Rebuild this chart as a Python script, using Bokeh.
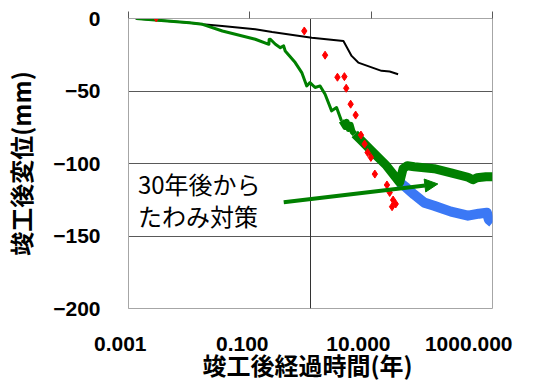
import math
from bokeh.plotting import figure
from bokeh.layouts import column
from bokeh.models import Range1d, FixedTicker, LogAxis, Label, Arrow, NormalHead, ColumnDataSource
from bokeh.embed import file_html
from bokeh.resources import INLINE

# ---------------- data ----------------
x_ticks = [0.001, 0.1, 10, 1000]
x_tick_labels = ["0.001", "0.100", "10.000", "1000.000"]
y_ticks = [0, -50, -100, -150, -200]
y_tick_labels = ["0", "−50", "−100", "−150", "−200"]
y_grid = [-50, -100, -150]

black_x = [0.0013, 0.0101, 0.0166, 0.035, 0.123, 0.233, 1.05, 3.49, 4.76, 6.13, 14.8, 20.2, 27.8]
black_y = [0.0, -2.9, -4.0, -5.2, -7.4, -9.3, -13.2, -15.5, -25.8, -30.4, -36.1, -36.6, -38.4]

green_early_x = [0.00134, 0.0101, 0.0166, 0.0353, 0.123, 0.206, 0.208, 0.218, 0.264, 0.318,
                 0.361, 0.383, 0.560, 0.718, 0.866, 0.98, 1.19, 1.44, 1.74, 2.23, 2.69, 3.24]
green_early_y = [0.0, -2.9, -4.0, -8.6, -14.3, -17.8, -14.5, -14.3, -17.8, -20.1,
                 -18.9, -22.4, -30.4, -37.3, -46.5, -44.2, -47.6, -46.5, -52.2, -63.7, -61.4, -70.6]

green_mid_x = [3.24, 3.73, 3.95, 4.26, 4.59, 4.95, 5.36]
green_mid_y = [-70.6, -74.7, -71.3, -76.1, -73.3, -78.1, -79.7]

green_late_x = [5.36, 6.95, 10.1, 17.9, 29.5, 33.6, 39.4, 51.4, 109, 207, 394, 476, 554, 778, 1000]
green_late_y = [-79.7, -84.3, -91.2, -101.5, -113.0, -103.6, -101.5, -102.2, -103.6, -106.4,
                -109.5, -111.2, -109.8, -109.1, -109.1]

blue_x = [29.5, 38.0, 51.4, 75.0, 109, 207, 394, 597, 807, 871, 1000]
blue_y = [-113.0, -116.7, -121.5, -127.0, -129.1, -133.2, -136.0, -134.6, -133.9, -138.7, -140.8]

red_x = [0.00286, 0.79, 1.74, 2.78, 3.62, 3.88, 4.59, 5.55, 6.78, 7.80, 8.74, 9.89, 11.5,
         18.2, 20.2, 23.0, 25.4, 22.1]
red_y = [0.5, -8.6, -25.3, -40.5, -40.1, -48.1, -59.1, -66.6, -80.4, -86.6, -92.4, -95.8, -107.3,
         -114.8, -120.0, -125.2, -127.9, -129.8]

ref_x = [1, 1]
ref_y = [0, -200]

note_lines = ["30年後から", "たわみ対策"]
x_title = "竣工後経過時間(年)"
y_title = "竣工後変位(mm)"

GREEN = "#008000"
BLUE = "#3b78f5"
RED = "#ff0000"
GRID = "#595959"
FRAME = "#a6a6a6"
TICK_FONT = "Liberation Sans"
JP_FONT = "Noto Sans CJK JP"

# layout (pixels)
W = 536
P_H = 330
Q_H = 53
B_LEFT, B_RIGHT, B_TOP, B_BOTTOM = 126, 44, 18, 22
X0, X1 = 0.001, 1000

# ---------------- main figure ----------------
p = figure(width=W, height=P_H, x_axis_type="log", x_axis_location=None,
           x_range=Range1d(X0, X1), y_range=Range1d(-200, 0),
           output_backend="svg", toolbar_location=None,
           min_border_left=B_LEFT, min_border_right=B_RIGHT,
           min_border_top=B_TOP, min_border_bottom=B_BOTTOM)
p.outline_line_color = FRAME
p.background_fill_color = "white"
p.border_fill_color = "white"
p.frame_align = False

# top axis: tick marks only
top = LogAxis(ticker=FixedTicker(ticks=x_ticks), major_tick_out=7, major_tick_in=0,
              major_tick_line_color=GRID, axis_line_color=FRAME,
              minor_tick_line_color=None, major_label_text_color=None, major_label_standoff=0)
p.add_layout(top, "above")

ya = p.yaxis[0]
ya.ticker = FixedTicker(ticks=y_ticks)
ya.major_label_overrides = dict(zip(y_ticks, y_tick_labels))
ya.major_tick_out = 0
ya.major_tick_in = 0
ya.minor_tick_line_color = None
ya.axis_line_color = FRAME
ya.major_label_standoff = 28
ya.major_label_text_font = TICK_FONT
ya.major_label_text_font_style = "bold"
ya.major_label_text_font_size = "21px"
ya.major_label_text_color = "black"
ya.axis_label = y_title
ya.axis_label_text_font = JP_FONT
ya.axis_label_text_font_style = "bold"
ya.axis_label_text_font_size = "24px"
ya.axis_label_text_color = "black"
ya.axis_label_standoff = 12

p.xgrid.visible = False
p.ygrid[0].ticker = FixedTicker(ticks=y_grid)
p.ygrid.grid_line_color = GRID

# ---------------- series ----------------
p.line(ref_x, ref_y, line_color="#333333", line_width=1)
p.line(black_x, black_y, line_color="black", line_width=2)
p.line(blue_x, blue_y, line_color=BLUE, line_width=10, line_join="round")
p.line(green_early_x, green_early_y, line_color=GREEN, line_width=3, line_join="round")
p.line(green_mid_x, green_mid_y, line_color=GREEN, line_width=6, line_join="round")
p.line(green_late_x, green_late_y, line_color=GREEN, line_width=9, line_join="round")
p.scatter(red_x, red_y, marker="diamond", size=8, fill_color=RED, line_color=RED)

# annotation
p.add_layout(Label(x=0.00143, y=-113.9, text=note_lines[0], text_align="left", text_baseline="middle",
                   text_font=JP_FONT, text_font_size="24px", text_color="black"))
p.add_layout(Label(x=0.00143, y=-136.0, text=note_lines[1], text_align="left", text_baseline="middle",
                   text_font=JP_FONT, text_font_size="24px", text_color="black"))
p.add_layout(Arrow(end=NormalHead(size=13, fill_color=GREEN, line_color=GREEN),
                   x_start=0.362, y_start=-126.8, x_end=125.6, y_end=-114.1,
                   line_color=GREEN, line_width=4))

# ---------------- x tick labels + x title strip ----------------
# same log scale as the main plot, but the frame spans the full width
decades = math.log10(X1) - math.log10(X0)
px_per_decade = (W - B_LEFT - B_RIGHT) / decades
q_start = 10 ** (math.log10(X0) - B_LEFT / px_per_decade)
q_end = 10 ** (math.log10(X1) + B_RIGHT / px_per_decade)

q = figure(width=W, height=Q_H, x_axis_type="log", x_axis_location=None, y_axis_location=None,
           x_range=Range1d(q_start, q_end), y_range=Range1d(0, 1),
           output_backend="svg", toolbar_location=None,
           min_border_left=0, min_border_right=0, min_border_top=0, min_border_bottom=0)
q.outline_line_color = None
q.background_fill_color = "white"
q.border_fill_color = "white"
q.grid.visible = False
q.frame_align = False

tick_src = ColumnDataSource(dict(x=x_ticks, y=[1] * len(x_ticks), t=x_tick_labels))
q.text(x="x", y="y", text="t", source=tick_src, x_offset=20, y_offset=13,
       text_align="right", text_baseline="middle",
       text_font={"value": TICK_FONT}, text_font_style="bold",
       text_font_size="21px", text_color="black")

title_src = ColumnDataSource(dict(x=[math.sqrt(X0 * X1)], y=[1], t=[x_title]))
q.text(x="x", y="y", text="t", source=title_src, x_offset=-2, y_offset=34,
       text_align="center", text_baseline="middle",
       text_font={"value": JP_FONT}, text_font_style="bold",
       text_font_size="24px", text_color="black")

layout = column(p, q, spacing=0)
open("out.html", "w").write(file_html(layout, INLINE))
